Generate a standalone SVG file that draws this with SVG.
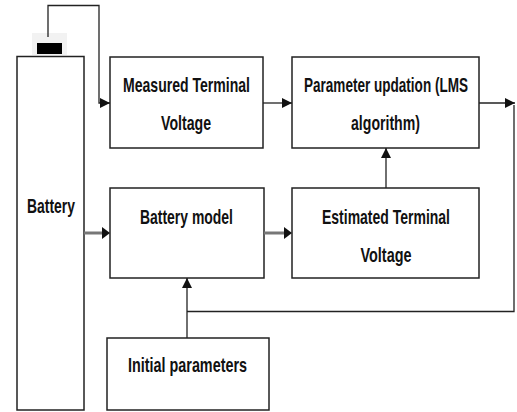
<svg xmlns="http://www.w3.org/2000/svg" width="517" height="412" viewBox="0 0 517 412">
<style>
.box{fill:#fff;stroke:#222;stroke-width:1.5}
.lbl{font-family:"Liberation Sans Narrow","Liberation Sans",Arial,sans-serif;font-weight:bold;font-size:21px;fill:#111;text-anchor:middle}
.wire{fill:none;stroke:#222;stroke-width:1.3}
.gwire{fill:none;stroke:#777;stroke-width:3}
</style>
<defs>
<marker id="ah" markerUnits="userSpaceOnUse" markerWidth="10" markerHeight="10" viewBox="0 0 10 10" refX="10" refY="5" orient="auto">
<path d="M0,0 L10,5 L0,10 Z" fill="#111"/>
</marker>
</defs>
<rect width="517" height="412" fill="#fff"/>

<g id="battery">
<rect x="32" y="33" width="35" height="22" fill="#f2f2f2"/>
<rect x="37" y="43" width="25" height="11" fill="#000"/>
<rect class="box" x="17" y="56.5" width="67" height="353.5"/>
<text class="lbl" x="51" y="213" textLength="48" lengthAdjust="spacingAndGlyphs">Battery</text>
</g>

<g id="measured">
<rect class="box" x="110" y="57" width="153" height="91"/>
<text class="lbl" x="186.5" y="92" textLength="127" lengthAdjust="spacingAndGlyphs">Measured Terminal</text>
<text class="lbl" x="186" y="130" textLength="50" lengthAdjust="spacingAndGlyphs">Voltage</text>
</g>

<g id="param">
<rect class="box" x="292" y="57" width="187" height="91"/>
<text class="lbl" x="386" y="92" textLength="164" lengthAdjust="spacingAndGlyphs">Parameter updation (LMS</text>
<text class="lbl" x="385.5" y="130" textLength="69" lengthAdjust="spacingAndGlyphs">algorithm)</text>
</g>

<g id="model">
<rect class="box" x="110" y="188" width="154" height="90"/>
<text class="lbl" x="186.5" y="224" textLength="93" lengthAdjust="spacingAndGlyphs">Battery model</text>
</g>

<g id="estimated">
<rect class="box" x="292" y="188" width="187" height="90"/>
<text class="lbl" x="386" y="224" textLength="128" lengthAdjust="spacingAndGlyphs">Estimated Terminal</text>
<text class="lbl" x="386" y="262" textLength="51" lengthAdjust="spacingAndGlyphs">Voltage</text>
</g>

<g id="initial">
<rect class="box" x="107" y="338" width="162" height="72"/>
<text class="lbl" x="187.5" y="372" textLength="119" lengthAdjust="spacingAndGlyphs">Initial parameters</text>
</g>

<g id="connectors">
<path class="wire" d="M48,37 V5.5 H99 V103 H110" marker-end="url(#ah)"/>
<path class="wire" d="M263,103 H292" marker-end="url(#ah)"/>
<path class="wire" d="M479,103 H515" marker-end="url(#ah)"/>
<path class="wire" d="M514,105 V311.5 H187"/>
<path class="wire" d="M386,188 V148" marker-end="url(#ah)"/>
<path class="gwire" d="M84,233 H103"/>
<path d="M102,227 L110,233 L102,239 Z" fill="#111"/>
<path class="gwire" d="M264,233 H285"/>
<path d="M284,227 L292,233 L284,239 Z" fill="#111"/>
<path class="wire" d="M187,338 V278" marker-end="url(#ah)"/>
</g>
</svg>
